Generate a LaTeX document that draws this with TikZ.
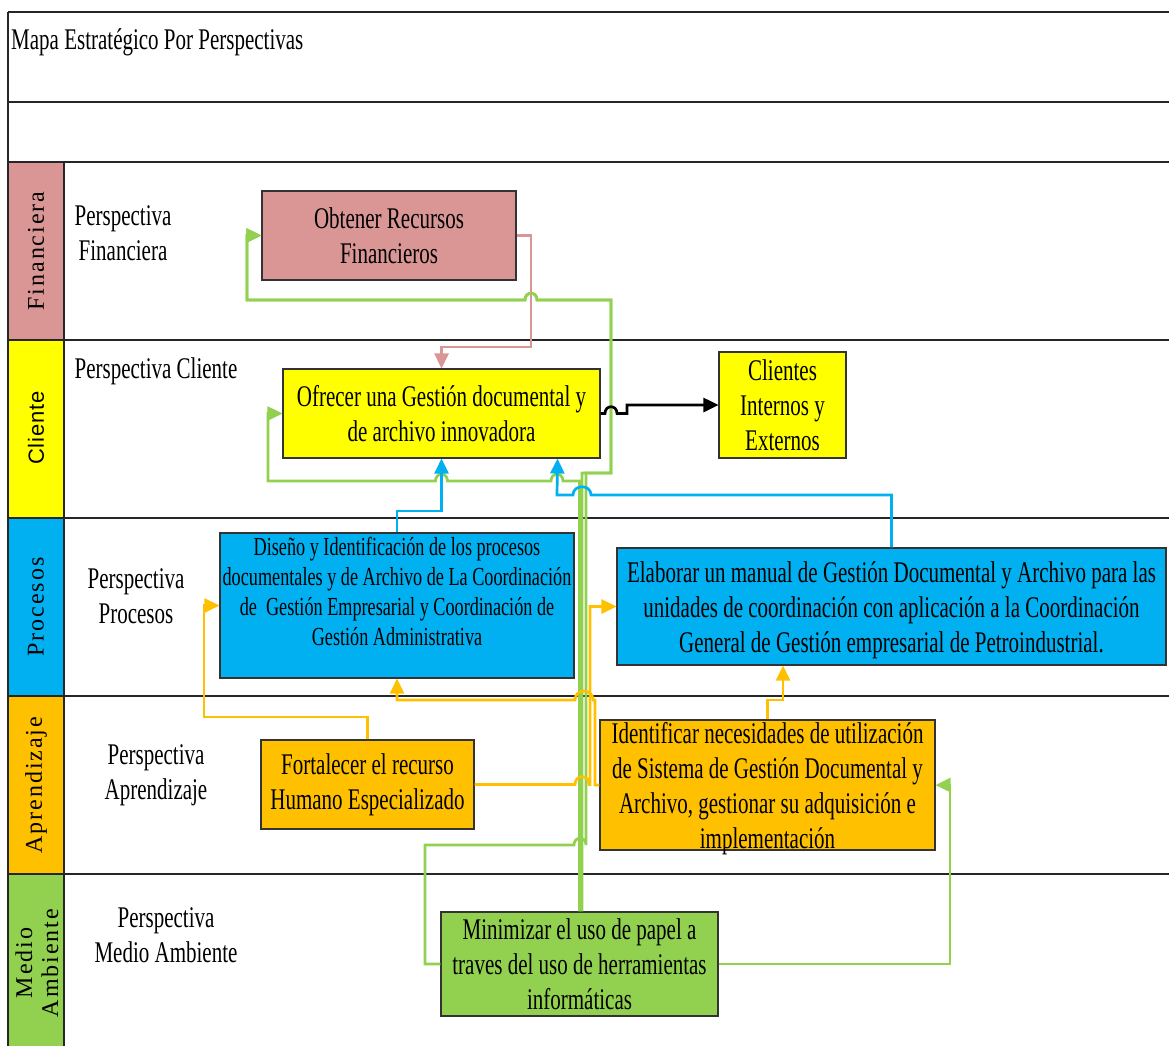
\documentclass[tikz,border=0pt]{standalone}
\usepackage{fontspec}
\setmainfont{Liberation Serif}[FakeStretch=0.7]
\newfontfamily\bandserif{Liberation Serif}[LetterSpace=8]
\newfontfamily\bandsans{Liberation Sans}[LetterSpace=4]
\usetikzlibrary{arrows.meta}

\definecolor{finpink}{HTML}{D99694}
\definecolor{finline}{HTML}{DA9694}
\definecolor{cliyellow}{HTML}{FFFF00}
\definecolor{procblue}{HTML}{00B0F0}
\definecolor{aprorange}{HTML}{FFC000}
\definecolor{medgreen}{HTML}{92D050}

\begin{document}
\begin{tikzpicture}[x=1pt,y=-1pt,
  goal/.style={draw=black!80, line width=1.1pt, align=center, inner sep=0pt,
               font=\fontsize{30}{35}\selectfont},
  persp/.style={align=center, inner sep=0pt, font=\fontsize{30}{35}\selectfont},
  band/.style={rotate=90, align=center, inner sep=0pt,
               font=\bandserif\fontsize{24}{26}\selectfont},
  gridline/.style={line width=1.5pt, black!85},
  link/.style={line width=2.7pt, -{Triangle[length=15pt,width=14pt]}}
]
\useasboundingbox (0,0) rectangle (1169,1046);

% perspective bands on the left
\fill[finpink]   (8,162) rectangle (64,340);
\fill[cliyellow] (8,340) rectangle (64,518);
\fill[procblue]  (8,518) rectangle (64,696);
\fill[aprorange] (8,696) rectangle (64,874);
\fill[medgreen]  (8,874) rectangle (64,1046);

% table rules
\foreach \yy in {12,102,162,340,518,696,874}
  \draw[gridline] (8,\yy) -- (1169,\yy);
\draw[gridline] (8,12) -- (8,1046);
\draw[gridline] (64,162) -- (64,1046);

% title
\node[persp, anchor=west, font=\fontsize{30}{35}\selectfont] (title) at (11,42)
  {Mapa Estratégico Por Perspectivas};

% band names
\node[band] (bfin) at (36,251) {Financiera};
\node[band, font=\bandsans\fontsize{22}{24}\selectfont] (bcli) at (36,428) {Cliente};
\node[band] (bpro) at (36,607) {Procesos};
\node[band] (bapr) at (36,785) {Aprendizaje};
\node[band] (bmed) at (37,963) {Medio\\Ambiente};

% perspective captions
\node[persp] (pfin) at (123,233) {Perspectiva\\Financiera};
\node[persp] (pcli) at (156,371) {Perspectiva Cliente};
\node[persp] (ppro) at (136,596) {Perspectiva\\Procesos};
\node[persp] (papr) at (156,775) {Perspectiva\\Aprendizaje};
\node[persp] (pmed) at (166,935) {Perspectiva\\Medio Ambiente};

% objectives
\node[goal, fill=finpink, minimum width=254pt, minimum height=89pt] (obt) at (389,235.5)
  {Obtener Recursos\\Financieros};
\node[goal, fill=cliyellow, minimum width=317pt, minimum height=89pt] (ofr) at (441.5,413.5)
  {Ofrecer una Gestión documental y\\de archivo innovadora};
\node[goal, fill=cliyellow, minimum width=127pt, minimum height=106pt] (cli) at (782.5,405)
  {Clientes\\Internos y\\Externos};
\node[goal, fill=procblue, minimum width=354pt, minimum height=145pt] (dis) at (397,605.5) {};
\node[persp, font=\fontsize{26}{30}\selectfont] (distext) at ([yshift=14pt]dis.center)
  {Diseño y Identificación de los procesos\\documentales y de Archivo de La Coordinación\\de~~Gestión Empresarial y Coordinación de\\Gestión Administrativa};
\node[goal, fill=procblue, minimum width=549pt, minimum height=117pt] (ela) at (891.5,606.5) {};
\node[persp] (elatext) at ([yshift=-4pt]ela.center)
  {Elaborar un manual de Gestión Documental y Archivo para las\\unidades de coordinación con aplicación a la Coordinación\\General de Gestión empresarial de Petroindustrial.};
\node[goal, fill=aprorange, minimum width=213pt, minimum height=89pt] (for) at (367.5,784.5)
  {Fortalecer el recurso\\Humano Especializado};
\node[goal, fill=aprorange, minimum width=335pt, minimum height=130pt] (ide) at (767.5,785) {};
\node[persp] (idetext) at ([yshift=-4pt]ide.center)
  {Identificar necesidades de utilización\\de Sistema de Gestión Documental y\\Archivo, gestionar su adquisición e\\implementación};
\node[goal, fill=medgreen, minimum width=277pt, minimum height=104pt] (min) at (579.5,964)
  {Minimizar el uso de papel a\\traves del uso de herramientas\\informáticas};

% financial link
\draw[link, finline] (obt.east) -- (531,235.5) -- (531,347) -| (ofr.north);

% environmental links
\draw[link, medgreen] (min.north) -- (579.5,481) -- (563,481)
  .. controls (563,472) and (551,472) .. (551,481) -- (447.5,481)
  .. controls (447.5,472) and (435.5,472) .. (435.5,481) -- (268,481)
  -- (268,413.5) -- (ofr.west);
\draw[link, medgreen] ([xshift=2.5pt]min.north) -- (582,473) -- (611,473) -- (611,300)
  -- (537,300) .. controls (537,291) and (525,291) .. (525,300)
  -- (247,300) -- (247,235.5) -- (obt.west);
\draw[link, medgreen] (min.west) -- (425,964) -- (425,845) -- (574,845)
  .. controls (574,836) and (586,836) .. (586,845) -- (586,473) -- (611,473) -- (611,300)
  -- (537,300) .. controls (537,291) and (525,291) .. (525,300)
  -- (247,300) -- (247,235.5) -- (obt.west);
\draw[link, medgreen] (min.east) -- (950,964) -- (950,785) -- (ide.east);

% process links
\draw[link, procblue] (dis.north) -- (397,511) -- (441.5,511) -- (ofr.south);
\draw[link, procblue] (ela.north) -- (891.5,495) -- (591,495)
  .. controls (591,484) and (573,484) .. (573,495) -- (557,495)
  -- ([xshift=-43pt]ofr.south east);

% learning links
\draw[link, aprorange] (for.north) -- (367.5,717) -- (204,717) -- (204,605.5) -- (dis.west);
\draw[link, aprorange] (for.east) -- (575,784.5)
  .. controls (575,774) and (589,774) .. (589,784.5) -- (590,784.5)
  -- (590,606.5) -- (ela.west);
\draw[link, aprorange] (ide.west) -- (595,785) -- (595,700) -- (593,700)
  .. controls (593,688) and (575,688) .. (575,700) -- (397,700) -- (dis.south);
\draw[link, aprorange] (ide.north) -- (767.5,700) -- (783,700) -- ([xshift=-108.5pt]ela.south);

% customer link
\draw[link, black] (ofr.east) -- (605,413.5)
  .. controls (605,404.5) and (617,404.5) .. (617,413.5) -- (627,413.5)
  -- (627,405) -- (cli.west);
\end{tikzpicture}
\end{document}
